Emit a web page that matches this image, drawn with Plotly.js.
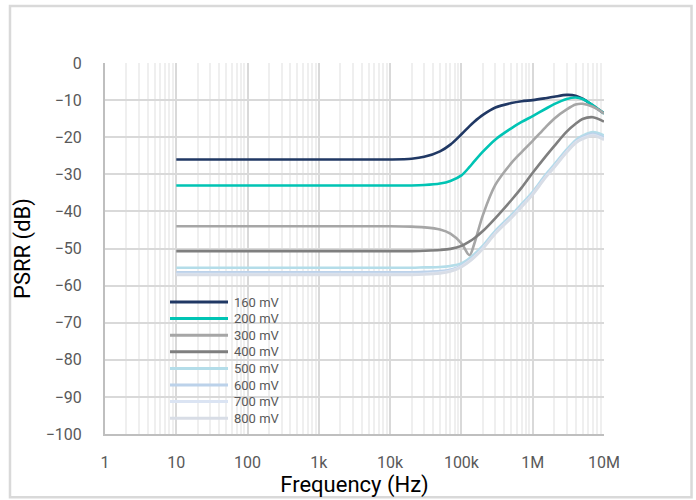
<!DOCTYPE html>
<html><head><meta charset="utf-8">
<script src="https://cdn.plot.ly/plotly-3.0.1.min.js"></script>
<style>html,body{margin:0;padding:0;background:#fff}#chart{width:696px;height:500px}</style>
</head><body><div id="chart"></div>
<script>
const freqHz = [10, 100, 1e3, 1e4, 2e4, 3e4, 5e4, 7e4, 1e5, 1.3e5, 1.5e5, 2e5, 3e5, 5e5, 7e5, 1e6, 1.5e6, 2e6, 3e6, 4e6, 5e6, 7e6, 1e7];
const seriesNames = ['160 mV', '200 mV', '300 mV', '400 mV', '500 mV', '600 mV', '700 mV', '800 mV'];
const psrr160 = [-26, -26, -26, -26, -25.8, -25.3, -23.8, -22.0, -19.2, -17.0, -15.9, -14.0, -12.0, -10.8, -10.3, -10.0, -9.5, -9.1, -8.6, -8.8, -9.6, -11.5, -13.6];
const psrr200 = [-33, -33, -33, -33, -33, -32.9, -32.5, -31.8, -30.3, -28.0, -26.6, -23.9, -20.6, -17.6, -15.9, -14.3, -12.4, -11.1, -9.7, -9.3, -9.7, -11.4, -13.6];
const psrr300 = [-44, -44, -44, -44, -44.1, -44.3, -44.9, -46.0, -48.6, -51.8, -49.0, -41.0, -32.8, -27.0, -24.0, -21.0, -17.4, -15.0, -12.5, -11.2, -11.0, -11.8, -13.6];
const psrr400 = [-50.7, -50.7, -50.7, -50.7, -50.7, -50.6, -50.4, -50.1, -49.3, -48.1, -47.3, -45.3, -41.8, -37.0, -33.6, -29.6, -25.3, -22.4, -18.5, -16.4, -15.1, -14.6, -15.8];
const psrr500 = [-55.2, -55.2, -55.2, -55.2, -55.2, -55.1, -55.0, -54.7, -54.0, -52.6, -51.6, -49.2, -45.2, -41.0, -38.0, -34.7, -30.2, -27.4, -23.3, -20.8, -19.6, -18.6, -19.5];
const psrr600 = [-56.4, -56.4, -56.4, -56.4, -56.4, -56.3, -56.1, -55.7, -54.6, -53.1, -52.1, -49.7, -45.6, -41.4, -38.4, -35.1, -30.6, -27.8, -23.7, -21.2, -20.0, -19.1, -20.1];
const psrr700 = [-56.9, -56.9, -56.9, -56.9, -56.9, -56.8, -56.5, -56.0, -54.8, -53.3, -52.3, -49.9, -45.8, -41.6, -38.6, -35.3, -30.8, -28.0, -23.9, -21.4, -20.3, -19.4, -20.5];
const psrr800 = [-57.1, -57.1, -57.1, -57.1, -57.1, -57.0, -56.7, -56.2, -55.0, -53.5, -52.5, -50.1, -46.0, -41.8, -38.8, -35.5, -31.0, -28.2, -24.1, -21.6, -20.5, -19.6, -20.7];
const xTickVals = [1, 10, 100, 1e3, 1e4, 1e5, 1e6, 1e7];
const xTickText = ['1', '10', '100', '1k', '10k', '100k', '1M', '10M'];

const allSeries = [psrr160, psrr200, psrr300, psrr400, psrr500, psrr600, psrr700, psrr800];
const lineColors = ['#203864', '#00c4b4', '#a6a6a6', '#7f7f7f', '#b4dde9', '#bcd2ea', '#dbe4f3', '#d8dde6'];

const traces = allSeries.map((ys, i) => ({
  type: 'scatter', mode: 'lines', name: seriesNames[i],
  x: freqHz, y: ys, showlegend: false,
  line: {color: lineColors[i], width: 2.6, shape: 'spline', smoothing: 0.9}
}));

// Plot area in pixels (for the legend block layout)
const plotL = 105, plotW = 499, plotB = 434, plotH = 371;
const px2x = p => (p - plotL) / plotW;
const px2y = p => (plotB - p) / plotH;
const legendTop = 302, legendStep = 16.6;

const legendShapes = seriesNames.map((n, i) => ({
  type: 'line', xref: 'paper', yref: 'paper',
  x0: px2x(170), x1: px2x(228), y0: px2y(legendTop + i * legendStep), y1: px2y(legendTop + i * legendStep),
  line: {color: lineColors[i], width: 3}
}));
const legendLabels = seriesNames.map((n, i) => ({
  xref: 'paper', yref: 'paper', x: px2x(232), y: px2y(legendTop + i * legendStep),
  xanchor: 'left', yanchor: 'middle', showarrow: false, text: n,
  font: {size: 13, color: '#595959'}
}));

const gridC = '#d9d9d9';
const layout = {
  width: 696, height: 500,
  margin: {l: 105, r: 92, t: 63, b: 66},
  paper_bgcolor: '#ffffff', plot_bgcolor: '#ffffff',
  font: {family: 'Roboto, sans-serif', color: '#595959', size: 16},
  showlegend: false,
  xaxis: {
    type: 'log', range: [0, 7], tickmode: 'array', tickvals: xTickVals, ticktext: xTickText,
    showgrid: true, gridcolor: gridC, gridwidth: 2,
    minor: {dtick: 'D1', showgrid: true, gridcolor: '#efefef', gridwidth: 2, ticks: ''},
    showline: true, linecolor: '#bfbfbf', linewidth: 2, ticks: '', ticklabelstandoff: 13,
    zeroline: false,
    title: {text: 'Frequency (Hz)', font: {size: 22, color: '#000000'}, standoff: 0}
  },
  yaxis: {
    range: [-100, 0], dtick: 10, tick0: 0,
    showgrid: true, gridcolor: gridC, gridwidth: 2,
    showline: true, linecolor: '#bfbfbf', linewidth: 2, ticks: '', ticklabelstandoff: 18,
    zeroline: false,
    title: {text: 'PSRR (dB)', font: {size: 22, color: '#000000'}, standoff: 9}
  },
  annotations: legendLabels,
  shapes: [{type: 'rect', xref: 'paper', yref: 'paper', layer: 'below',
    x0: -0.1904, x1: 1.1754, y0: -0.1705, y1: 1.1536,
    line: {color: '#d9d9d9', width: 2.5}, fillcolor: 'rgba(0,0,0,0)'}].concat(legendShapes)
};
Plotly.newPlot('chart', traces, layout, {staticPlot: true});
</script></body></html>
